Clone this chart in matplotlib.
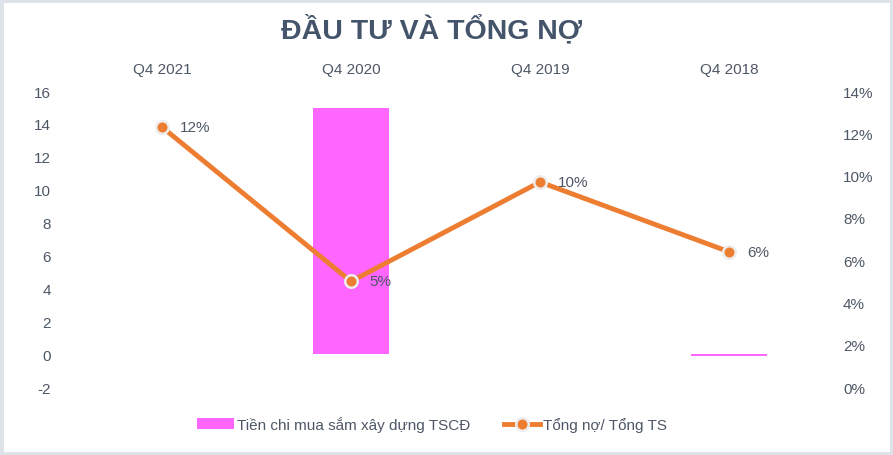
import matplotlib.pyplot as plt
from matplotlib.patches import Rectangle
import numpy as np

plt.rcParams['font.family'] = ['Liberation Sans', 'DejaVu Sans']
plt.rcParams['axes.unicode_minus'] = False

quarters = ['Q4 2021', 'Q4 2020', 'Q4 2019', 'Q4 2018']
capex = [0, 15, 0, -0.1]  # Tiền chi mua sắm xây dựng TSCĐ
debt_ratio = [12.3, 5.0, 9.7, 6.4]  # Tổng nợ/ Tổng TS, %
debt_labels = ['12%', '5%', '10%', '6%']

text_color = '#4D5766'
title_color = '#44546A'

fig = plt.figure(figsize=(8.93, 4.56), dpi=100)
fig.patches.append(Rectangle((0, 0), 1, 1, transform=fig.transFigure,
                             fill=False, edgecolor='#DEE3EA', linewidth=5))
ax = fig.add_axes([0.0756, 0.149, 0.8466, 0.649])
x = np.arange(len(quarters))

bars = ax.bar(x, capex, width=0.4, color='#FF66FF', label='Tiền chi mua sắm xây dựng TSCĐ')
ax.set_ylim(-2, 16)
ax.set_yticks(np.arange(-2, 17, 2))
ax.set_xlim(-0.5, 3.5)
ax.set_xticks(x)
ax.set_xticklabels(quarters)
ax.xaxis.tick_top()
ax.tick_params(axis='x', length=0, pad=11, labelsize=11, labelcolor=text_color)
ax.tick_params(axis='y', length=0, pad=12, labelsize=11, labelcolor=text_color)
for s in ax.spines.values():
    s.set_visible(False)

ax2 = ax.twinx()
line, = ax2.plot(x, debt_ratio, color='#ED7D31', linewidth=3.5, marker='o', markersize=9,
                 markerfacecolor='#ED7D31', markeredgecolor='#EDEDED', markeredgewidth=1.8,
                 label='Tổng nợ/ Tổng TS')
ax2.set_ylim(0, 14)
ax2.set_yticks(np.arange(0, 15, 2))
ax2.set_yticklabels([f'{v}%' for v in range(0, 15, 2)])
ax2.tick_params(axis='y', length=0, pad=14, labelsize=11, labelcolor=text_color)
for s in ax2.spines.values():
    s.set_visible(False)

for xi, yi, lab in zip(x, debt_ratio, debt_labels):
    ax2.annotate(lab, (xi, yi), xytext=(13, 0), textcoords='offset points',
                 va='center', ha='left', fontsize=11, color=text_color)

fig.text(0.483, 0.935, 'ĐẦU TƯ VÀ TỔNG NỢ', ha='center', va='center',
         fontsize=20.5, fontweight='bold', color=title_color)

fig.legend([bars, line], ['Tiền chi mua sắm xây dựng TSCĐ', 'Tổng nợ/ Tổng TS'],
           loc='center', bbox_to_anchor=(0.484, 0.068), ncol=2, frameon=False,
           fontsize=11, labelcolor=text_color, handlelength=2.4, handletextpad=0.2,
           columnspacing=2.2)

fig.savefig('out.png', dpi=100)
